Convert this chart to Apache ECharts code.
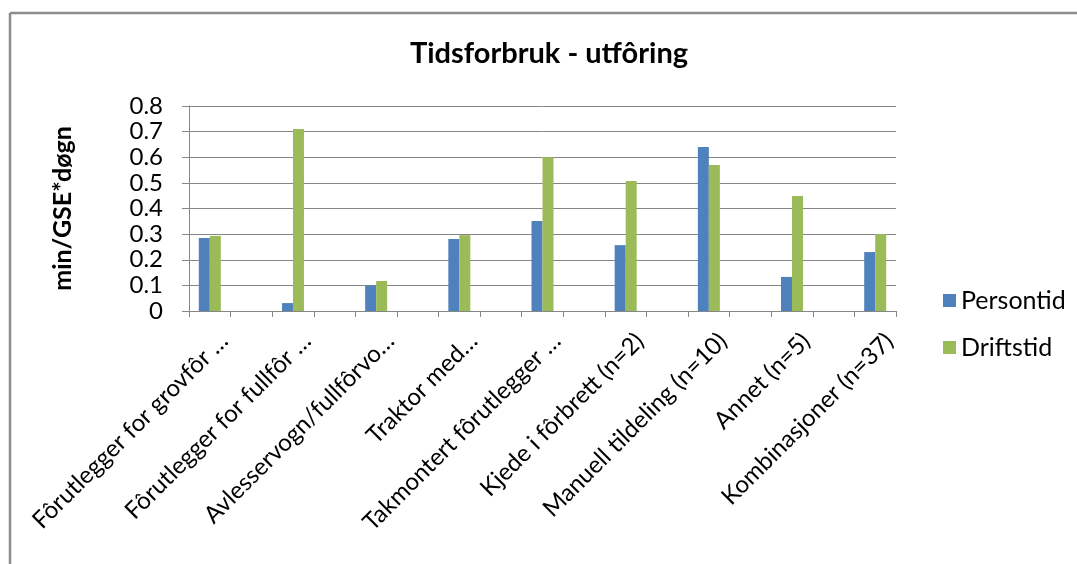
<!DOCTYPE html>
<html>
<head>
<meta charset="utf-8">
<title>Tidsforbruk - utfôring</title>
<script src="https://cdn.jsdelivr.net/npm/echarts@6/dist/echarts.min.js"></script>
<style>
    html, body {margin: 0; padding: 0; background: #fff;}
    #chart {width: 1077px; height: 564px;}
</style>
</head>
<body>
<div id="chart"></div>
<script>
// kategorier - tomme kategorier mellom hver gruppe, som i originalen
let categories = [
    'Fôrutlegger for grovfôr …', '',
    'Fôrutlegger for fullfôr …', '',
    'Avlesservogn/fullfôrvo…', '',
    'Traktor med…', '',
    'Takmontert fôrutlegger …', '',
    'Kjede i fôrbrett (n=2)', '',
    'Manuell tildeling (n=10)', '',
    'Annet (n=5)', '',
    'Kombinasjoner (n=37)'
];
let persontid = [0.285, null, 0.031, null, 0.099, null, 0.281, null, 0.351, null, 0.257, null, 0.64, null, 0.133, null, 0.23];
let driftstid = [0.293, null, 0.71, null, 0.117, null, 0.296, null, 0.6, null, 0.507, null, 0.57, null, 0.449, null, 0.30];
let yTicks = [0, 0.1, 0.2, 0.3, 0.4, 0.5, 0.6, 0.7, 0.8];

let FONT = 'Lato, "Open Sans", sans-serif';
let GRID_COLOR = '#868686';

let myChart = echarts.init(document.getElementById('chart'));
let option = {
    animation: false,
    backgroundColor: '#fff',
    textStyle: {fontFamily: FONT, color: '#000'},
    title: {
        text: 'Tidsforbruk - utfôring',
        left: 544,
        top: 34,
        textAlign: 'center',
        textStyle: {fontFamily: FONT, fontSize: 29, fontWeight: 'bold', color: '#000'}
    },
    legend: {
        orient: 'vertical',
        left: 938,
        top: 283,
        itemWidth: 13,
        itemHeight: 13,
        itemGap: 22,
        icon: 'rect',
        textStyle: {fontFamily: FONT, fontSize: 25, color: '#000'},
        data: ['Persontid', 'Driftstid']
    },
    grid: {left: 189, right: 181, top: 106, bottom: 253},
    xAxis: {
        type: 'category',
        data: categories,
        axisLine: {lineStyle: {color: GRID_COLOR, width: 1}},
        axisTick: {show: true, length: 6, interval: 0, lineStyle: {color: GRID_COLOR}},
        axisLabel: {
            interval: 0,
            rotate: 45,
            margin: 12,
            verticalAlign: 'top',
            padding: [8, 0, 0, 0],
            fontFamily: FONT,
            fontSize: 24,
            color: '#000'
        }
    },
    yAxis: {
        type: 'value',
        min: yTicks[0],
        max: yTicks[yTicks.length - 1],
        interval: 0.1,
        name: 'min/GSE*døgn',
        nameLocation: 'middle',
        nameGap: 114,
        nameTextStyle: {fontFamily: FONT, fontSize: 25, fontWeight: 'bold', color: '#000'},
        axisLine: {show: true, lineStyle: {color: GRID_COLOR, width: 1}},
        axisTick: {show: true, length: 7, lineStyle: {color: GRID_COLOR}},
        axisLabel: {
            margin: 26,
            showMinLabel: true,
            showMaxLabel: true,
            hideOverlap: false,
            fontFamily: FONT,
            fontSize: 24,
            color: '#000',
            formatter: function (v) {
                return v === 0 ? '0' : v.toFixed(1);
            }
        },
        splitLine: {lineStyle: {color: GRID_COLOR, width: 1}}
    },
    series: [
        {
            name: 'Persontid',
            type: 'bar',
            data: persontid,
            barWidth: 11,
            barGap: '0%',
            itemStyle: {color: '#4F81BD'}
        },
        {
            name: 'Driftstid',
            type: 'bar',
            data: driftstid,
            barWidth: 11,
            barGap: '0%',
            itemStyle: {color: '#9BBB59'}
        }
    ],
    graphic: [
        {type: 'line', shape: {x1: 10, y1: 13, x2: 1077, y2: 13}, style: {stroke: '#8c8c8c', lineWidth: 2.5}, silent: true},
        {type: 'line', shape: {x1: 10, y1: 13, x2: 10, y2: 564}, style: {stroke: '#8c8c8c', lineWidth: 2.5}, silent: true}
    ]
};
myChart.setOption(option);
</script>
</body>
</html>
